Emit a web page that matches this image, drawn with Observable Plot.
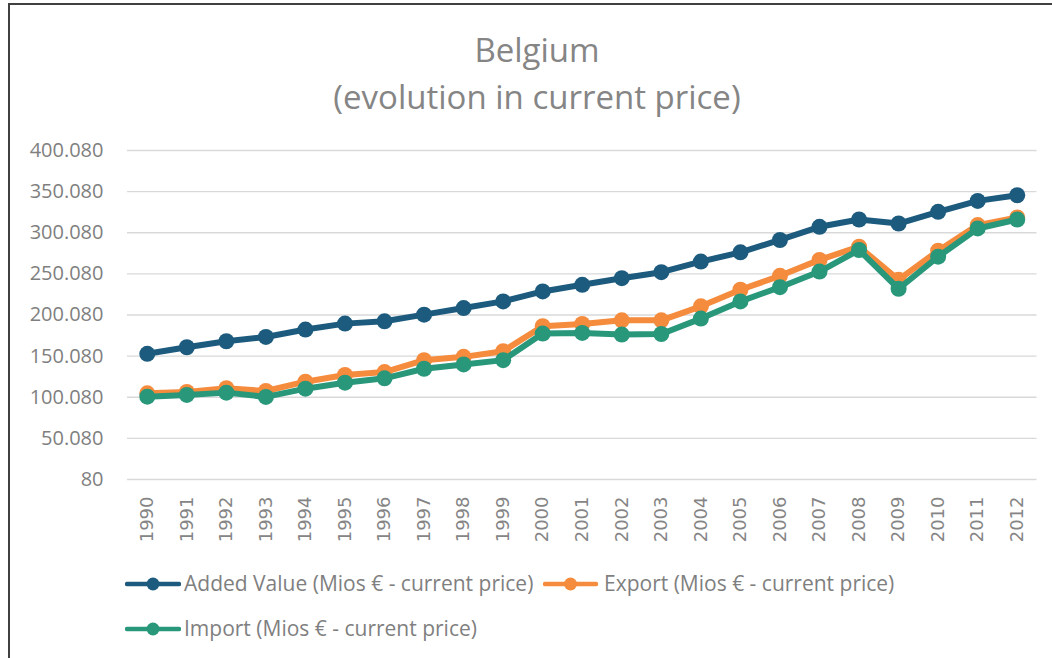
<!DOCTYPE html>
<html>
<head>
<meta charset="utf-8">
<script src="https://cdn.jsdelivr.net/npm/d3@7"></script>
<script src="https://cdn.jsdelivr.net/npm/@observablehq/plot@0.6"></script>
<style>
  html, body { margin: 0; padding: 0; background: #fff; }
  body { width: 1052px; height: 658px; position: relative; overflow: hidden; font-family: "Open Sans", sans-serif; }
  #frame { position: absolute; left: 8px; top: 3px; width: 1200px; height: 800px; border-top: 2px solid #404040; border-left: 2px solid #404040; }
  #title { position: absolute; left: 22px; width: 1030px; top: 26px; text-align: center; color: #858585; font-size: 33px; line-height: 47px; }
  #chart { position: absolute; left: 0; top: 130px; }
  .leg { position: absolute; color: #7f7f7f; font-size: 21px; line-height: 28px; white-space: nowrap; }
  .leg svg { position: absolute; }
</style>
</head>
<body>
<div id="frame"></div>
<div id="title">Belgium<br>(evolution in current price)</div>
<div id="chart"></div>
<div id="legend"></div>
<script>
const years = ["1990","1991","1992","1993","1994","1995","1996","1997","1998","1999","2000","2001","2002","2003","2004","2005","2006","2007","2008","2009","2010","2011","2012"];
const addedValue = [152900,160900,168200,173400,182400,189600,192400,200500,208500,216600,228700,236800,244800,252100,265000,276300,291300,307300,316200,311300,325500,338800,345700];
const exportVals = [104900,106500,111000,107700,119000,127100,130700,145200,149200,156100,186400,189200,193600,193600,210600,230800,247700,267100,283100,242900,278300,309400,318600];
const importVals = [100800,102900,105700,100500,110500,117800,123100,134700,140000,145200,177500,178300,176300,177000,195700,216600,233900,252900,279100,232000,271000,305300,316200];
const seriesNames = ["Added Value (Mios € - current price)", "Export (Mios € - current price)", "Import (Mios € - current price)"];
const seriesColors = ["#1d5b7e", "#f58b3c", "#29977a"];
const yTicks = [80, 50080, 100080, 150080, 200080, 250080, 300080, 350080, 400080];

const seriesValues = [addedValue, exportVals, importVals];
const table = seriesNames.map((name, i) => years.map((year, j) => ({series: name, year, value: seriesValues[i][j]})));

const fmt = d3.formatLocale({decimal: ",", thousands: ".", grouping: [3], currency: ["", "€"]}).format(",");

const marks = [
  Plot.ruleY(yTicks, {stroke: "#d9d9d9", strokeWidth: 1.3}),
  Plot.axisY({ticks: yTicks, tickSize: 0, tickPadding: 24, tickFormat: fmt, fontSize: 20, fill: "#7f7f7f"}),
  Plot.axisX({tickRotate: -90, tickSize: 0, tickPadding: 17, fontSize: 18, fontFamily: "DejaVu Sans", fill: "#858585"})
];
table.forEach((rows, i) => {
  marks.push(Plot.line(rows, {x: "year", y: "value", stroke: seriesColors[i], strokeWidth: 6, strokeLinejoin: "round", strokeLinecap: "round"}));
  marks.push(Plot.dot(rows, {x: "year", y: "value", r: 8, fill: seriesColors[i], stroke: "none"}));
});

const chart = Plot.plot({
  width: 1052,
  height: 420,
  marginTop: 20,
  marginBottom: 71,
  marginLeft: 127,
  marginRight: 15.5,
  style: {fontFamily: "Open Sans", fontSize: "20px", color: "#7f7f7f", background: "transparent"},
  x: {type: "point", domain: years, padding: 0.5, round: false, label: null},
  y: {domain: [80, 400080], label: null},
  marks
});
document.getElementById("chart").appendChild(chart);

// legend (below the chart)
const legendPos = [
  {sx: 125, sw: 56, cy: 584, tx: 184},
  {sx: 543, sw: 55, cy: 584, tx: 604},
  {sx: 125, sw: 56, cy: 629, tx: 184}
];
const legend = document.getElementById("legend");
seriesNames.forEach((name, i) => {
  const p = legendPos[i];
  const sw = document.createElementNS("http://www.w3.org/2000/svg", "svg");
  sw.setAttribute("width", p.sw);
  sw.setAttribute("height", 16);
  sw.style.position = "absolute";
  sw.style.left = p.sx + "px";
  sw.style.top = (p.cy - 8) + "px";
  sw.innerHTML = `<line x1="2" x2="${p.sw - 2}" y1="8" y2="8" stroke="${seriesColors[i]}" stroke-width="4.5" stroke-linecap="round"/><circle cx="${p.sw / 2}" cy="8" r="6.5" fill="${seriesColors[i]}"/>`;
  legend.appendChild(sw);
  const t = document.createElement("div");
  t.className = "leg";
  t.textContent = name;
  t.style.left = p.tx + "px";
  t.style.top = (p.cy - 15) + "px";
  legend.appendChild(t);
});
</script>
</body>
</html>
